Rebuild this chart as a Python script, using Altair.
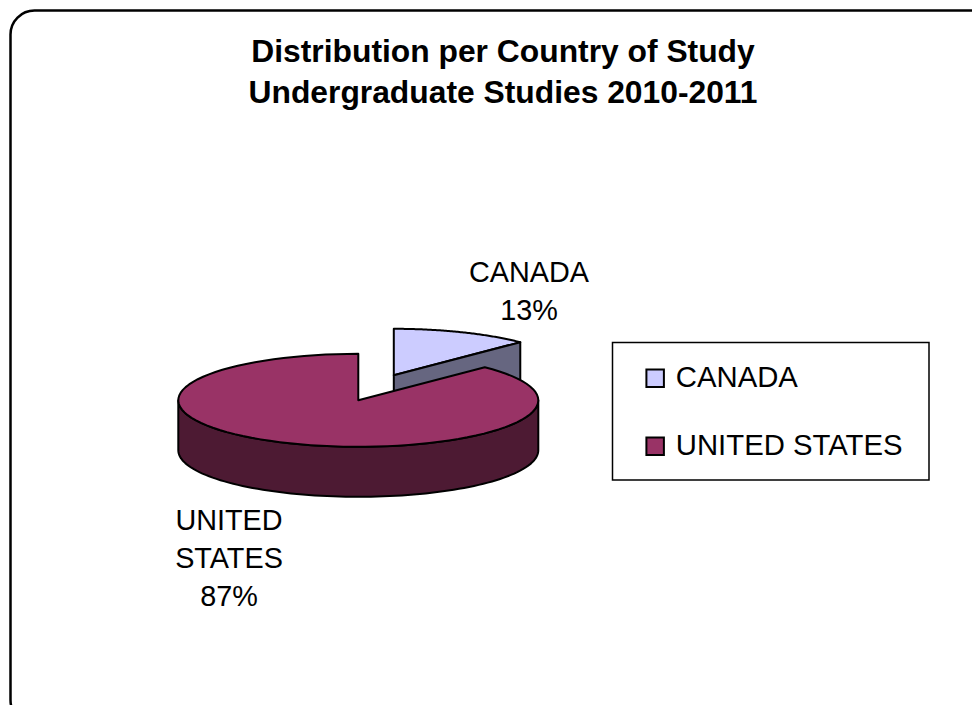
import math
import altair as alt
import pandas as pd

countries = ["CANADA", "UNITED STATES"]
shares = [12.4, 87.6]
top_colors = ["#CCCCFF", "#993366"]
side_colors = ["#666680", "#4D1A33"]
title_lines = ["Distribution per Country of Study", "Undergraduate Studies 2010-2011"]
label_text = ["CANADA\n13%", "UNITED\nSTATES\n87%"]

FONT = "Liberation Sans"
W, H = 964, 697
RADIUS = 180.0
TILT = 46.5 / RADIUS
DEPTH = 50.0 / RADIUS
EXPLODE = (35.5 / RADIUS, -25.0 / RADIUS)


def rim(start, end, dx=0.0, dy=0.0, steps=90):
    pts = []
    for i in range(steps + 1):
        t = math.radians(start + (end - start) * i / steps)
        pts.append([dx + math.sin(t), dy - math.cos(t) * TILT])
    return pts


def feature(country, ring):
    ring = ring + [ring[0]]
    return {"type": "Feature", "properties": {"country": country},
            "geometry": {"type": "Polygon", "coordinates": [ring]}}


split = shares[0] / sum(shares) * 360
ex, ey = EXPLODE
canada_top = feature(countries[0], [[ex, ey]] + rim(0, split, ex, ey))
edge = rim(split, split, ex, ey, steps=1)[0]
canada_wall = feature(countries[0], [[ex, ey], edge, [edge[0], edge[1] + DEPTH], [ex, ey + DEPTH]])
us_outer = rim(90, 270)
us_wall = feature(countries[1], us_outer + [[x, y + DEPTH] for x, y in reversed(us_outer)])
us_top = feature(countries[1], [[0.0, 0.0]] + rim(split, 360))

projection = alt.Projection(type="identity", scale=RADIUS, translate=[350.3, 392.3])
color = alt.Color(
    "properties.country:N",
    scale=alt.Scale(domain=countries, range=top_colors),
    legend=alt.Legend(
        title=None, orient="none", legendX=632.5, legendY=355.5, symbolType="square",
        symbolSize=306, symbolStrokeColor="black", symbolStrokeWidth=2,
        labelFont=FONT, labelFontSize=29.3, labelColor="black", labelOffset=6,
        labelLimit=300, rowPadding=38, padding=0, values=countries,
    ),
)


def solid(feat, fill):
    return alt.Chart(alt.Data(values=[feat])).mark_geoshape(
        fill=fill, stroke="black", strokeWidth=2, strokeJoin="round"
    ).project(**projection.to_dict())


def coloured(feat):
    return alt.Chart(alt.Data(values=[feat])).mark_geoshape(
        stroke="black", strokeWidth=2, strokeJoin="round"
    ).encode(color=color).project(**projection.to_dict())


page_frame = alt.Chart(pd.DataFrame({"f": [0]})).mark_rect(
    fill="white", stroke="black", strokeWidth=2.5, cornerRadius=24
).encode(x=alt.value(2.5), x2=alt.value(1010), y=alt.value(2.5), y2=alt.value(716))

legend_frame = alt.Chart(pd.DataFrame({"f": [0]})).mark_rect(
    fill="white", stroke="black", strokeWidth=1.5
).encode(x=alt.value(604.5), x2=alt.value(921), y=alt.value(334.5), y2=alt.value(472))

labels = pd.DataFrame({
    "text": label_text,
    "px": [521, 221],
    "py": [265, 513],
})
label_layer = alt.Chart(labels).mark_text(
    font=FONT, fontSize=28.8, color="black", lineBreak="\n", lineHeight=38,
    align="center", baseline="middle",
).encode(x=alt.X("px:Q", scale=None), y=alt.Y("py:Q", scale=None), text="text:N")

chart = alt.layer(
    page_frame,
    legend_frame,
    coloured(canada_top),
    solid(canada_wall, side_colors[0]),
    solid(us_wall, side_colors[1]),
    coloured(us_top),
    label_layer,
).properties(
    width=W, height=H, padding=0, autosize=alt.AutoSizeParams(type="none"),
    title=alt.TitleParams(
        text=title_lines, font=FONT, fontSize=31.8, fontWeight="bold", color="black",
        lineHeight=41, anchor="middle", frame="group", dx=13, dy=106, baseline="top",
    ),
).configure_view(stroke=None)

chart.save("out.html", embed_options={"renderer": "svg", "actions": False})
